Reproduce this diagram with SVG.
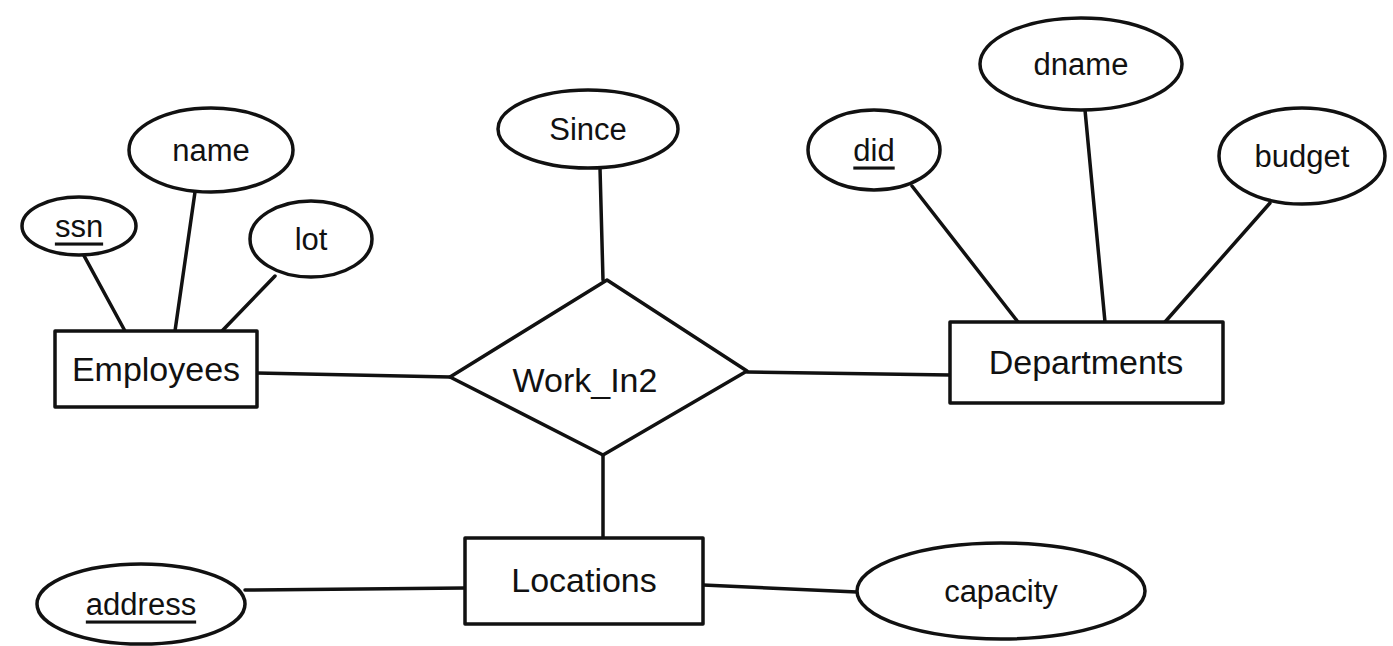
<svg xmlns="http://www.w3.org/2000/svg" width="1393" height="646" viewBox="0 0 1393 646">
<style>
.shape{fill:#ffffff;stroke:#111111;stroke-width:3.5;stroke-linejoin:round}
.conn{stroke:#111111;stroke-width:3.5;stroke-linecap:round;fill:none}
.t{font-family:"Liberation Sans",Arial,sans-serif;font-size:31px;fill:#111111;text-anchor:middle;dominant-baseline:central}
.big{font-size:34px}
.u{text-decoration:underline}
</style>
<rect width="1393" height="646" fill="#ffffff"/>
<g id="connectors">
<line class="conn" x1="82" y1="252" x2="125" y2="331"/>
<line class="conn" x1="195" y1="192" x2="175" y2="331"/>
<line class="conn" x1="275" y1="276" x2="222" y2="331"/>
<line class="conn" x1="257" y1="373" x2="450" y2="377"/>
<line class="conn" x1="600" y1="168" x2="603" y2="280"/>
<line class="conn" x1="747" y1="372" x2="950" y2="375"/>
<line class="conn" x1="912" y1="186" x2="1018" y2="322"/>
<line class="conn" x1="1085" y1="110" x2="1105" y2="322"/>
<line class="conn" x1="1270" y1="203" x2="1165" y2="322"/>
<line class="conn" x1="603" y1="455" x2="603" y2="538"/>
<line class="conn" x1="245" y1="590" x2="465" y2="588"/>
<line class="conn" x1="703" y1="585" x2="857" y2="592"/>
</g>
<g id="ssn"><ellipse class="shape" cx="79" cy="226" rx="57" ry="29"/><text class="t u" x="79" y="226">ssn</text></g>
<g id="name"><ellipse class="shape" cx="211" cy="150" rx="82" ry="42"/><text class="t" x="211" y="150">name</text></g>
<g id="lot"><ellipse class="shape" cx="311" cy="239" rx="61" ry="38"/><text class="t" x="311" y="239">lot</text></g>
<g id="employees"><rect class="shape" x="55" y="331" width="202" height="76"/><text class="t big" x="156" y="369">Employees</text></g>
<g id="since"><ellipse class="shape" cx="588" cy="129" rx="90" ry="39"/><text class="t" x="588" y="129">Since</text></g>
<g id="work_in2"><polygon class="shape" points="607,280 747,371 603,455 450,377"/><text class="t big" x="585" y="380">Work_In2</text></g>
<g id="did"><ellipse class="shape" cx="874" cy="150" rx="66" ry="40"/><text class="t u" x="874" y="150">did</text></g>
<g id="dname"><ellipse class="shape" cx="1081" cy="64" rx="101" ry="46"/><text class="t" x="1081" y="64">dname</text></g>
<g id="budget"><ellipse class="shape" cx="1302" cy="156" rx="83" ry="48"/><text class="t" x="1302" y="156">budget</text></g>
<g id="departments"><rect class="shape" x="950" y="322" width="273" height="81"/><text class="t big" x="1086" y="362">Departments</text></g>
<g id="locations"><rect class="shape" x="465" y="538" width="238" height="86"/><text class="t big" x="584" y="580">Locations</text></g>
<g id="address"><ellipse class="shape" cx="141" cy="604" rx="104" ry="40"/><text class="t u" x="141" y="604">address</text></g>
<g id="capacity"><ellipse class="shape" cx="1001" cy="591" rx="144" ry="48"/><text class="t" x="1001" y="591">capacity</text></g>
</svg>
